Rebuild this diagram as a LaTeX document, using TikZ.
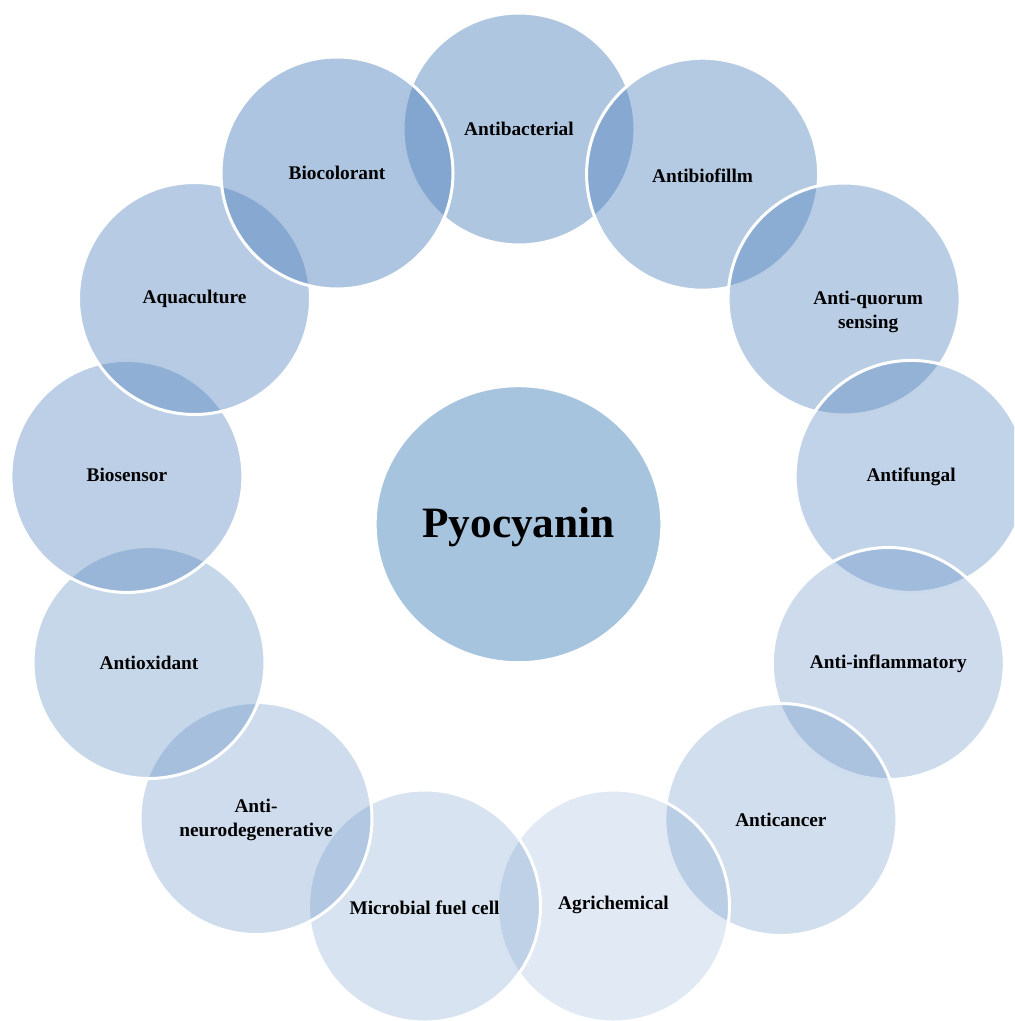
\documentclass[tikz,border=0pt]{standalone}
\usepackage{fontspec}
\setmainfont{Liberation Serif}
\usetikzlibrary{shapes.geometric}
\definecolor{bubbase}{RGB}{74,126,187}
\definecolor{hubfill}{RGB}{167,196,223}
\begin{document}
\begin{tikzpicture}[x=0.75pt,y=-0.75pt,
  bub/.style={circle, minimum size=174pt, inner sep=0pt, fill=bubbase, draw=white, line width=2.25pt},
  lbl/.style={font=\fontsize{14.5}{17.5}\selectfont\bfseries, align=center, text=black, inner sep=0pt},
  hub/.style={ellipse, minimum width=215pt, minimum height=207.75pt, inner sep=0pt, fill=hubfill, draw=white, line width=2.25pt},
  hubtext/.style={font=\fontsize{32.5}{36}\selectfont\bfseries, text=black, inner sep=0pt}]
\useasboundingbox (0,0) rectangle (1014,1021);
\clip (0,0) rectangle (1014,1021);
% central hub
\node[hub] (hub) at (518.5,524.2) {};
\node[hubtext] (hubt) at ([yshift=-2.5pt]hub) {Pyocyanin};
% outer circles, drawn clockwise from the top
\node[bub, fill opacity=0.44] (c0)  at (519.0,129.0) {};
\node[bub, fill opacity=0.41] (c1)  at (702.6,174.2) {};
\node[bub, fill opacity=0.39] (c2)  at (844.1,299.0) {};
\node[bub, fill opacity=0.34] (c3)  at (911.1,476.4) {};
\node[bub, fill opacity=0.28] (c4)  at (888.3,663.5) {};
\node[bub, fill opacity=0.26] (c5)  at (780.9,819.5) {};
\node[bub, fill opacity=0.17] (c6)  at (613.5,906.0) {};
\node[bub, fill opacity=0.22] (c7)  at (424.5,906.0) {};
\node[bub, fill opacity=0.27] (c8)  at (256.0,818.5) {};
\node[bub, fill opacity=0.31] (c9)  at (149.0,662.5) {};
\node[bub, fill opacity=0.37] (c10) at (126.9,476.4) {};
\node[bub, fill opacity=0.40] (c11) at (194.5,298.5) {};
\node[bub, fill opacity=0.45] (c12) at (337.0,173.0) {};
% labels
\node[lbl] (t0)  at (c0)  {Antibacterial};
\node[lbl] (t1)  at ([yshift=-1pt]c1)  {Antibiofillm};
\node[lbl] (t2)  at ([xshift=18pt,yshift=-9.75pt]c2) {Anti-quorum\\sensing};
\node[lbl] (t3)  at (c3)  {Antifungal};
\node[lbl] (t4)  at (c4)  {Anti-inflammatory};
\node[lbl] (t5)  at (c5)  {Anticancer};
\node[lbl] (t6)  at ([yshift=0.5pt]c6)  {Agrichemical};
\node[lbl] (t7)  at ([yshift=-1.5pt]c7)  {Microbial fuel cell};
\node[lbl] (t8)  at ([yshift=-1pt]c8)  {Anti-\\neurodegenerative};
\node[lbl] (t9)  at (c9)  {Antioxidant};
\node[lbl] (t10) at ([yshift=1.5pt]c10) {Biosensor};
\node[lbl] (t11) at (c11) {Aquaculture};
\node[lbl] (t12) at (c12) {Biocolorant};
\end{tikzpicture}
\end{document}
